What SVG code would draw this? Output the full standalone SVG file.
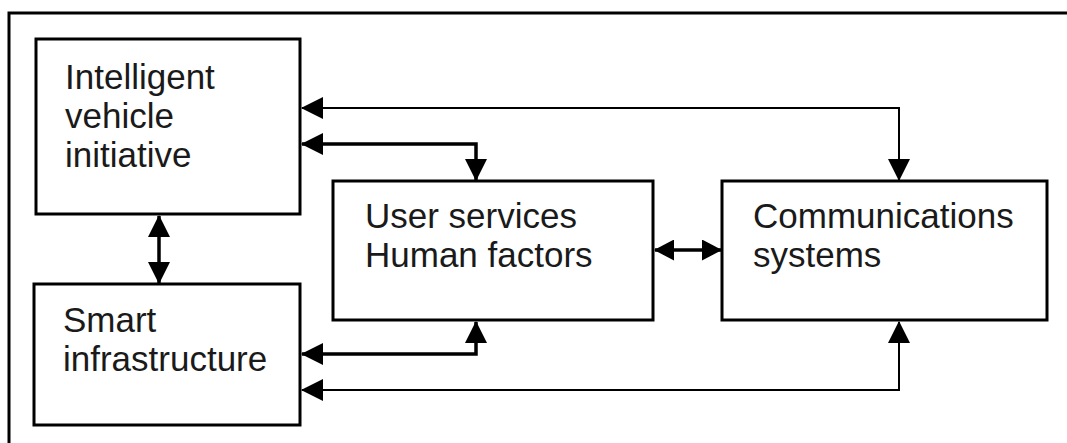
<svg xmlns="http://www.w3.org/2000/svg" width="1067" height="443" viewBox="0 0 1067 443">
<defs>
<style>
.box{fill:#fff;stroke:#000;stroke-width:3}
.frame{fill:none;stroke:#000;stroke-width:3}
.lbl{font-family:"Liberation Sans",Arial,sans-serif;font-size:35px;fill:#1a1a1a}
.thick{fill:none;stroke:#000;stroke-width:3.5}
.thin{fill:none;stroke:#000;stroke-width:2}
</style>
<marker id="ah" markerUnits="userSpaceOnUse" markerWidth="22" markerHeight="22" refX="21" refY="11" orient="auto-start-reverse" viewBox="0 0 22 22">
<path d="M0,0 L22,11 L0,22 z" fill="#000"/>
</marker>
<marker id="ahs" markerUnits="userSpaceOnUse" markerWidth="20" markerHeight="21" refX="19" refY="10.5" orient="auto-start-reverse" viewBox="0 0 20 21">
<path d="M0,0 L20,10.5 L0,21 z" fill="#000"/>
</marker>
</defs>
<rect width="1067" height="443" fill="#fff"/>
<rect class="frame" x="9" y="13" width="1200" height="600"/>
<g id="connectors">
<path class="thin" d="M302,108 H899 V180" marker-start="url(#ah)" marker-end="url(#ah)"/>
<path class="thick" d="M302,144 H476 V180" marker-start="url(#ah)" marker-end="url(#ah)"/>
<path class="thick" d="M159,216 V283" marker-start="url(#ah)" marker-end="url(#ah)"/>
<path class="thick" d="M655,250 H721" marker-start="url(#ahs)" marker-end="url(#ahs)"/>
<path class="thick" d="M302,354 H476 V322" marker-start="url(#ah)" marker-end="url(#ah)"/>
<path class="thin" d="M302,390 H899 V322" marker-start="url(#ah)" marker-end="url(#ah)"/>
</g>
<g id="ivi">
<rect class="box" x="36" y="39" width="264" height="175"/>
<text class="lbl" x="65" y="89">Intelligent</text>
<text class="lbl" x="65" y="128">vehicle</text>
<text class="lbl" x="65" y="167">initiative</text>
</g>
<g id="smart">
<rect class="box" x="34" y="284" width="266" height="141"/>
<text class="lbl" x="63" y="332">Smart</text>
<text class="lbl" x="63" y="371">infrastructure</text>
</g>
<g id="user">
<rect class="box" x="333" y="181" width="320" height="139"/>
<text class="lbl" x="365" y="228">User services</text>
<text class="lbl" x="365" y="267">Human factors</text>
</g>
<g id="comms">
<rect class="box" x="722" y="181" width="325" height="139"/>
<text class="lbl" x="753" y="228">Communications</text>
<text class="lbl" x="753" y="267">systems</text>
</g>
</svg>
